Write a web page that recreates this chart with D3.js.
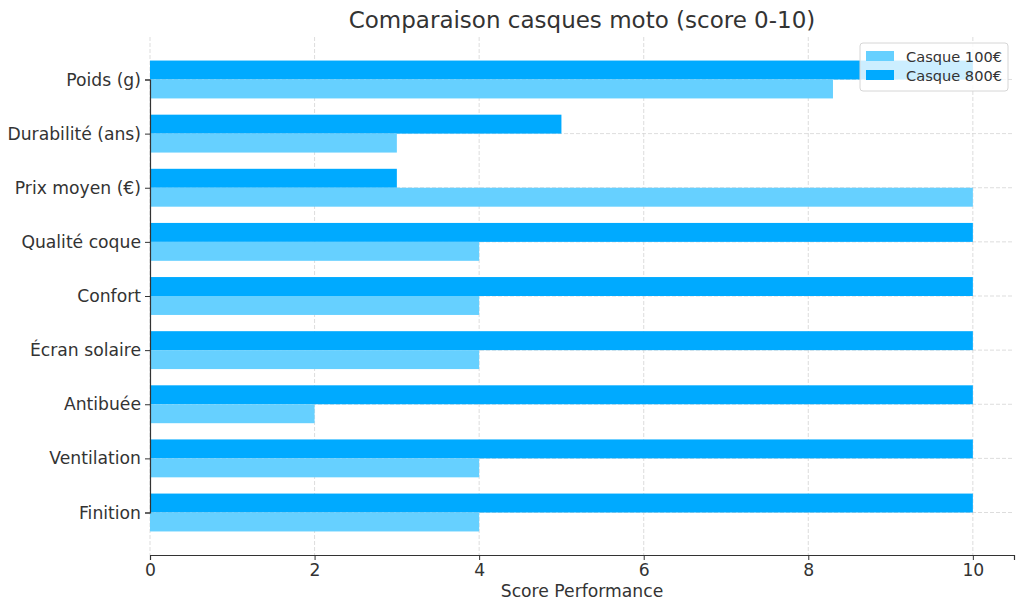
<!DOCTYPE html>
<html>
<head>
<meta charset="utf-8">
<script src="https://cdn.jsdelivr.net/npm/d3@7"></script>
<style>
  body { margin: 0; background: #fff; }
  svg { font-family: "DejaVu Sans", sans-serif; }
</style>
</head>
<body>
<div id="chart"></div>
<script>
// categories, top to bottom
var categories = ["Poids (g)", "Durabilité (ans)", "Prix moyen (€)", "Qualité coque", "Confort",
                  "Écran solaire", "Antibuée", "Ventilation", "Finition"];
var casque100 = [8.3, 3, 10, 4, 4, 4, 2, 4, 4];
var casque800 = [10, 5, 3, 10, 10, 10, 10, 10, 10];
var xTicks = [0, 2, 4, 6, 8, 10];
var seriesNames = ["Casque 100€", "Casque 800€"];
var colors = {"Casque 100€": "#66d0ff", "Casque 800€": "#00aaff"};

var width = 1024, height = 611;
var margin = {top: 37, right: 10, bottom: 56, left: 150};
var w = width - margin.left - margin.right,
    h = height - margin.top - margin.bottom;
var textColor = "#333";

var svg = d3.select("#chart").append("svg")
    .attr("width", width)
    .attr("height", height);

var g = svg.append("g")
    .attr("transform", "translate(" + margin.left + "," + margin.top + ")");

// index 0 (Poids) at top, 5% padding like matplotlib
var n = categories.length;
var barH = 0.35;
var x = d3.scaleLinear().domain([0, 10.5]).range([0, w]);
var y = d3.scaleLinear().domain([-0.785, n - 1 + 0.785]).range([0, h]);

// grid
g.selectAll(".vgrid").data(xTicks).enter().append("line")
    .attr("x1", function (d) { return x(d); })
    .attr("x2", function (d) { return x(d); })
    .attr("y1", 0).attr("y2", h)
    .attr("stroke", "#d4d4d4").attr("stroke-width", 0.8)
    .attr("stroke-dasharray", "4,2");
g.selectAll(".hgrid").data(categories).enter().append("line")
    .attr("x1", 0).attr("x2", w)
    .attr("y1", function (d, i) { return y(i); })
    .attr("y2", function (d, i) { return y(i); })
    .attr("stroke", "#d4d4d4").attr("stroke-width", 0.8)
    .attr("stroke-dasharray", "4,2");

// bars: 800 above center, 100 below
g.selectAll(".b800").data(casque800).enter().append("rect")
    .attr("x", x(0))
    .attr("y", function (d, i) { return y(i - barH); })
    .attr("width", function (d) { return x(d) - x(0); })
    .attr("height", y(barH) - y(0))
    .attr("fill", colors["Casque 800€"]);
g.selectAll(".b100").data(casque100).enter().append("rect")
    .attr("x", x(0))
    .attr("y", function (d, i) { return y(i); })
    .attr("width", function (d) { return x(d) - x(0); })
    .attr("height", y(barH) - y(0))
    .attr("fill", colors["Casque 100€"]);

// axes
var xAxis = g.append("g")
    .attr("transform", "translate(0," + h + ")")
    .call(d3.axisBottom(x).tickValues(xTicks).tickSize(5).tickPadding(4).tickFormat(d3.format("d")));
var yAxis = g.append("g")
    .call(d3.axisLeft(d3.scalePoint().domain(categories).range([y(0), y(n - 1)]))
      .tickSize(5).tickPadding(4));
[xAxis, yAxis].forEach(function (a) {
  a.select(".domain").attr("stroke", "#333").attr("stroke-width", 1.2);
  a.selectAll(".tick line").attr("stroke", "#333");
  a.selectAll("text").attr("fill", textColor)
    .style("font-size", "17.2px").style("font-family", "DejaVu Sans");
});
xAxis.selectAll("text").attr("dy", "0.72em");

// title and label
svg.append("text")
    .attr("x", margin.left + w / 2).attr("y", 28)
    .attr("text-anchor", "middle")
    .attr("fill", textColor)
    .style("font-size", "23px")
    .text("Comparaison casques moto (score 0-10)");
svg.append("text")
    .attr("x", margin.left + w / 2).attr("y", 597)
    .attr("text-anchor", "middle")
    .attr("fill", textColor)
    .style("font-size", "17.2px")
    .text("Score Performance");

// legend
var leg = svg.append("g").attr("transform", "translate(860,43)");
leg.append("rect")
    .attr("width", 148).attr("height", 48).attr("rx", 3)
    .attr("fill", "rgba(255,255,255,0.8)")
    .attr("stroke", "#d6d6d6");
var items = leg.selectAll(".item").data(seriesNames).enter().append("g")
    .attr("transform", function (d, i) { return "translate(6," + (8 + i * 19) + ")"; });
items.append("rect")
    .attr("width", 28).attr("height", 10)
    .attr("fill", function (d) { return colors[d]; });
items.append("text")
    .attr("x", 40).attr("y", 5)
    .attr("dominant-baseline", "central")
    .attr("fill", textColor)
    .style("font-size", "14.6px")
    .text(function (d) { return d; });
</script>
</body>
</html>
